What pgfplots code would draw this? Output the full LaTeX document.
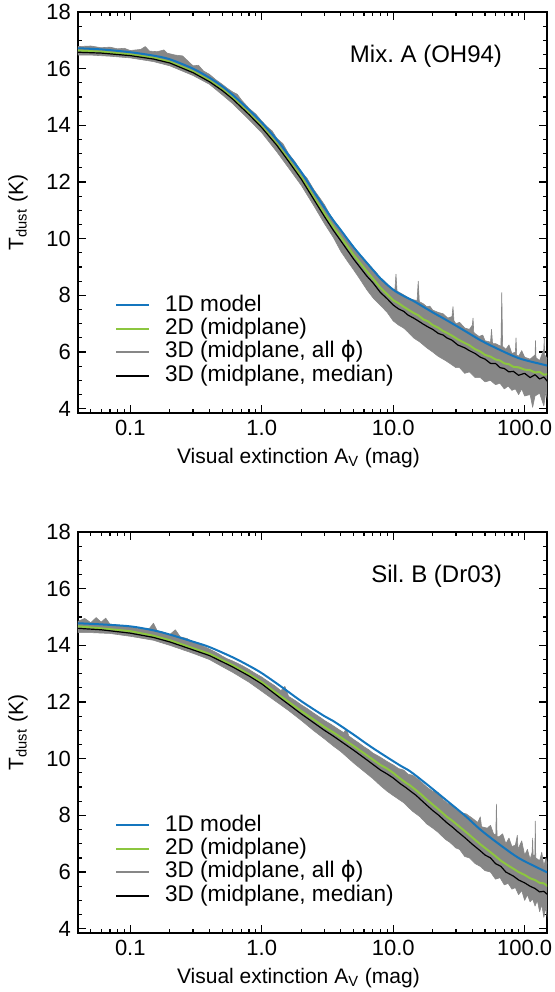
\documentclass[border=0pt]{standalone}
\usepackage{pgfplots}
\pgfplotsset{compat=1.18}
\usepackage{fontspec}
\setmainfont{Liberation Sans}
\newfontfamily\dejavu{DejaVu Sans}
\frenchspacing
\definecolor{oneD}{RGB}{20,118,190}
\definecolor{twoD}{RGB}{140,198,63}
\definecolor{threeD}{RGB}{135,135,135}
\pgfplotsset{
  every axis/.append style={
  width=234.5pt, height=200.5pt, scale only axis,
  xmin=0.04, xmax=148, ymin=3.85, ymax=18,
  xtick={0.1,1,10,100}, xticklabels={0.1,1.0,10.0,100.0},
  minor xtick={0.04,0.05,0.06,0.07,0.08,0.09,0.2,0.3,0.4,0.5,0.6,0.7,0.8,0.9,2,3,4,5,6,7,8,9,20,30,40,50,60,70,80,90},
  ytick={4,6,...,18}, minor y tick num=3,
  tick align=inside, major tick length=4pt, minor tick length=2pt,
  /pgf/number format/assume math mode=true,
  tick label style={font=\fontsize{11}{13}\selectfont},
  label style={font=\fontsize{10.5}{12}\selectfont},
  xlabel={Visual extinction A\textsubscript{V} (mag)},
  ylabel={T\textsubscript{dust} (K)},
  xlabel style={at={(axis description cs:0.47,-0.112)},anchor=center},
  ylabel style={at={(axis description cs:-0.128,0.5)},anchor=center},
  axis line style={line width=0.6pt},
  every tick/.style={line width=0.6pt, black},
  legend style={draw=none, fill=none, at={(0.079,0.295)}, anchor=north west,
    inner sep=0pt, outer sep=0pt, row sep=1pt,
    font=\fontsize{11.3}{13}\selectfont,
    nodes={inner sep=0pt, text height=8.2pt, text depth=2.5pt},
    /tikz/every odd column/.append style={column sep=7.5pt}},
  legend cell align=left,
  },
  legend image code/.code={\draw[#1] (0pt,0pt) -- (16.5pt,0pt);},
}
\begin{document}
\begin{tikzpicture}
\useasboundingbox (0,0) rectangle (277.5pt,496pt);
% ---------------- top panel ----------------
\begin{semilogxaxis}[at={(39pt,289.5pt)}, anchor=south west]
\addlegendimage{oneD, line width=1pt}\addlegendentry{1D model}
\addlegendimage{twoD, line width=1pt}\addlegendentry{2D (midplane)}
\addlegendimage{threeD, line width=1pt}\addlegendentry{3D (midplane, all {\dejavu ϕ})}
\addlegendimage{black, line width=1pt}\addlegendentry{3D (midplane, median)}
\addplot[fill=threeD, draw=threeD, line width=0.3pt, line join=round, forget plot] coordinates {
(0.04,16.78)(0.05,16.8)(0.06,16.74)(0.07,16.76)(0.08,16.7)(0.09,16.72)(0.1,16.64)(0.12,16.68)(0.13,16.78)(0.14,16.62)
(0.16,16.6)(0.18,16.66)(0.19,16.55)(0.22,16.48)(0.25,16.45)(0.27,16.3)(0.3,16.1)(0.33,16.12)(0.36,15.92)(0.4,15.8)
(0.45,15.6)(0.5,15.45)(0.55,15.3)(0.6,15.18)(0.65,15.1)(0.7,14.9)(0.8,14.6)(0.9,14.4)(1.0,14.15)(1.1,13.95)
(1.2,13.8)(1.3,13.55)(1.45,13.35)(1.6,13.0)(1.8,12.7)(2.0,12.35)(2.2,12.15)(2.5,11.72)(2.8,11.4)(3.0,11.2)
(3.3,10.85)(3.6,10.6)(4.0,10.32)(4.3,10.1)(4.7,9.88)(5.0,9.72)(5.4,9.5)(5.8,9.35)(6.3,9.17)(6.8,9.0)
(7.3,8.85)(8.0,8.62)(8.6,8.5)(9.2,8.35)(10,8.22)(10.3,8.2)(10.5,8.75)(10.7,8.15)(12,8.02)(13,7.92)(14,7.85)
(15.2,7.82)(15.5,8.5)(15.8,7.78)(17,7.7)(18,7.6)(19,7.62)(20,7.48)(22,7.4)(24,7.35)(26,7.2)
(28,7.25)(28.5,7.6)(29,7.1)(30,7.0)(32,7.05)(35,6.85)(38,6.8)(40,6.95)(40.5,7.2)(41,6.7)(42,6.65)(45,6.55)(48,6.6)(50,6.4)
(55,6.35)(56,6.8)(57,6.3)(60,6.3)(66,6.2)(67,8.1)(68,6.2)(72,6.1)(76,6.25)(80,5.95)(85,6.0)(86,6.5)(87,5.9)(90,5.85)
(95,6.05)(100,5.82)(110,5.75)(120,5.9)(121,6.4)(122,5.8)(130,5.7)(140,6.1)(141,6.5)(142,5.9)(150,5.75)
(150,4.25)(145,4.6)(140,4.1)(130,4.55)(120,4.45)(115,4.05)(110,4.5)(100,4.45)(95,4.7)(90,4.5)
(85,4.7)(80,4.65)(75,4.8)(70,4.7)(65,4.9)(60,4.85)(55,5.0)(50,4.95)(46,5.1)(42,5.1)
(38,5.3)(35,5.25)(32,5.45)(30,5.45)(27,5.6)(25,5.7)(22,5.85)(20,6.0)(18,6.15)(16,6.35)
(14.3,6.5)(13,6.7)(12,6.85)(11,6.95)(10,7.1)(9,7.4)(8,7.65)(7,7.92)(6.3,8.2)(5.5,8.62)
(5,8.9)(4.5,9.2)(4,9.55)(3.5,10.05)(3.0,10.53)(2.5,11.15)(2.0,11.88)(1.6,12.5)(1.3,13.07)(1.0,13.74)
(0.8,14.2)(0.6,14.77)(0.5,15.08)(0.4,15.45)(0.3,15.76)(0.2,16.1)(0.15,16.25)(0.1,16.38)(0.07,16.44)(0.05,16.48)(0.04,16.48)(0.04,16.78)
};
\addplot[oneD, line width=1pt, smooth, forget plot] coordinates {
(0.04,16.72)(0.06,16.68)(0.1,16.58)(0.15,16.46)(0.2,16.33)(0.3,16.0)(0.4,15.68)(0.5,15.38)(0.6,15.08)(0.8,14.55)
(1.0,14.1)(1.3,13.5)(1.6,12.95)(2.0,12.35)(2.5,11.65)(3.0,11.1)(3.5,10.65)(4.0,10.3)(5.0,9.7)(6.3,9.15)
(8.0,8.6)(10,8.2)(12,7.98)(14.3,7.8)(20,7.4)(25.6,7.12)(35,6.75)(46,6.42)(60,6.15)(82,5.86)(100,5.72)(150,5.52)
};
\addplot[twoD, line width=1pt, line join=round, forget plot] coordinates {
(0.04,16.64)(0.06,16.6)(0.1,16.5)(0.15,16.38)(0.2,16.24)(0.3,15.9)(0.4,15.58)(0.5,15.27)(0.6,14.97)(0.8,14.42)
(1.0,13.96)(1.3,13.34)(1.6,12.78)(2.0,12.17)(2.5,11.45)(3.0,10.88)(3.5,10.42)(4.0,10.05)(5.0,9.43)(6.3,8.85)
(8.0,8.27)(10,7.83)(11,7.72)(12,7.6)(13,7.5)(14.3,7.38)(15.5,7.3)(17,7.15)(18.5,7.08)(20,6.95)
(22,6.86)(24,6.74)(25.6,6.68)(28,6.58)(31,6.45)(35,6.32)(38,6.24)(42,6.1)(46,6.02)(50,5.9)
(55,5.84)(60,5.74)(65,5.7)(70,5.6)(76,5.57)(82,5.48)(90,5.46)(100,5.38)(110,5.36)(120,5.28)(130,5.3)(140,5.2)(150,5.22)
};
\addplot[black, line width=0.6pt, line join=round, forget plot] coordinates {
(0.04,16.58)(0.06,16.55)(0.1,16.46)(0.15,16.34)(0.2,16.2)(0.3,15.86)(0.4,15.54)(0.5,15.23)(0.6,14.93)(0.8,14.38)
(1,13.92)(1.3,13.3)(1.6,12.73)(2,12.1)(2.5,11.37)(3,10.78)(3.5,10.3)(4,9.92)(5,9.28)(6.3,8.68)
(7,8.45)(8,8.1)(9,7.88)(10,7.66)(11,7.52)(12,7.44)(13,7.3)(14.3,7.2)(15.5,7.1)(17,6.98)
(18.5,6.88)(20,6.8)(22,6.66)(24,6.6)(25.6,6.5)(28,6.42)(31,6.25)(35,6.15)(38,6.05)(42,5.95)
(46,5.82)(50,5.75)(55,5.6)(60,5.6)(65,5.45)(70,5.42)(76,5.3)(82,5.32)(90,5.18)(100,5.25)(110,5.1)(120,5.2)(130,5.05)(140,5.12)(150,4.95)
};
\node[anchor=east, font=\fontsize{12}{14}\selectfont] at (rel axis cs:0.919,0.89) {Mix. A (OH94)};
\end{semilogxaxis}
% ---------------- bottom panel ----------------
\begin{semilogxaxis}[at={(39pt,29.5pt)}, anchor=south west]
\addlegendimage{oneD, line width=1pt}\addlegendentry{1D model}
\addlegendimage{twoD, line width=1pt}\addlegendentry{2D (midplane)}
\addlegendimage{threeD, line width=1pt}\addlegendentry{3D (midplane, all {\dejavu ϕ})}
\addlegendimage{black, line width=1pt}\addlegendentry{3D (midplane, median)}
\addplot[fill=threeD, draw=threeD, line width=0.3pt, line join=round, forget plot] coordinates {
(0.04,14.85)(0.045,14.95)(0.05,14.8)(0.055,14.98)(0.06,14.82)(0.065,14.96)(0.07,14.75)(0.08,14.72)(0.1,14.65)(0.12,14.58)
(0.14,14.6)(0.15,14.78)(0.16,14.52)(0.18,14.46)(0.2,14.38)(0.22,14.55)(0.24,14.3)(0.27,14.24)(0.3,14.12)(0.34,14.02)
(0.38,13.92)(0.42,13.82)(0.47,13.7)(0.5,13.62)(0.55,13.52)(0.6,13.45)(0.7,13.3)(0.8,13.15)(0.9,13.0)(1.0,12.88)
(1.1,12.75)(1.25,12.58)(1.4,12.4)(1.5,12.55)(1.6,12.2)(1.8,12.05)(2.0,11.9)(2.2,11.78)(2.5,11.6)(2.8,11.45)(3.0,11.35)
(3.4,11.2)(3.8,11.05)(4.2,10.92)(4.4,11.05)(4.6,10.8)(5.0,10.68)(5.5,10.55)(6.0,10.42)(6.5,10.32)(7.0,10.2)(8.0,10.05)
(9.0,9.9)(10,9.78)(11,9.65)(12,9.6)(13,9.45)(14,9.42)(15,9.32)(16,9.22)(18,9.0)(20,8.85)
(22,8.8)(24,8.55)(26,8.42)(28,8.38)(30,8.2)(33,8.1)(36,8.05)(40,7.9)(44,7.75)(46,7.95)(47,7.6)
(52,7.55)(55,7.65)(58,7.35)(60.3,7.3)(61,8.4)(61.7,7.25)(64,7.25)(68,7.35)(72,7.0)(76,7.2)(80,6.9)(85,6.95)
(88,7.3)(89,6.8)(95,7.1)(100,6.6)(105,6.8)(110,6.45)(114,6.7)(115,7.2)(116,6.6)(119.5,6.6)(120.5,7.8)(121.5,6.5)(130,6.4)(135,6.7)(140,6.2)(145,6.5)(150,6.25)
(150,4.3)(145,4.75)(140,4.4)(135,4.85)(130,4.6)(125,5.0)(120,4.8)(115,5.05)(110,4.95)(105,5.2)
(100,5.0)(95,5.35)(90,5.2)(85,5.45)(80,5.4)(75,5.6)(70,5.55)(65,5.8)(60,5.75)(55,6.0)
(50,6.05)(46,6.2)(42,6.3)(38,6.5)(35,6.55)(32,6.8)(30,6.85)(27,7.05)(25,7.15)(22,7.4)
(20,7.55)(18,7.7)(16,7.95)(14,8.15)(12,8.45)(10,8.7)(9,8.85)(8,9.05)(7,9.3)(6,9.55)
(5,9.85)(4,10.25)(3.5,10.45)(3,10.7)(2.5,10.98)(2,11.35)(1.6,11.7)(1.3,12.0)(1.0,12.38)(0.8,12.7)
(0.6,13.05)(0.5,13.25)(0.4,13.5)(0.3,13.72)(0.2,14.0)(0.15,14.18)(0.1,14.32)(0.07,14.42)(0.05,14.45)(0.04,14.45)(0.04,14.85)
};
\addplot[oneD, line width=1pt, smooth, forget plot] coordinates {
(0.04,14.78)(0.06,14.74)(0.1,14.67)(0.15,14.53)(0.2,14.38)(0.3,14.13)(0.4,13.94)(0.6,13.58)(0.8,13.28)(1.0,13.02)
(1.4,12.55)(2.0,12.03)(3.0,11.5)(3.5,11.33)(5,10.85)(6.3,10.52)(8,10.2)(11.3,9.76)(13.5,9.55)(18,9.1)
(25.6,8.52)(35,8.0)(46,7.5)(60,7.08)(82,6.62)(100,6.38)(150,5.98)
};
\addplot[twoD, line width=1pt, line join=round, forget plot] coordinates {
(0.04,14.67)(0.06,14.6)(0.1,14.5)(0.15,14.34)(0.2,14.18)(0.3,13.9)(0.4,13.7)(0.6,13.3)(0.8,12.98)(1.0,12.7)
(1.4,12.2)(2.0,11.68)(3.0,11.12)(3.5,10.93)(5,10.45)(6.3,10.12)(8,9.78)(9,9.65)(10,9.5)(11.3,9.3)
(12.5,9.15)(13.5,9.05)(15,8.88)(16.5,8.72)(18,8.56)(20,8.38)(22,8.22)(25.6,7.95)(28,7.82)(31,7.65)
(35,7.45)(40,7.22)(46,6.98)(50,6.85)(55,6.7)(60,6.56)(66,6.4)(72,6.28)(82,6.12)(90,6.0)
(100,5.9)(110,5.78)(120,5.72)(130,5.62)(140,5.6)(150,5.5)
};
\addplot[black, line width=0.6pt, line join=round, forget plot] coordinates {
(0.04,14.6)(0.06,14.55)(0.1,14.43)(0.15,14.28)(0.2,14.12)(0.3,13.84)(0.4,13.64)(0.6,13.24)(0.8,12.92)(1,12.64)
(1.4,12.12)(2,11.58)(3,11.0)(3.5,10.8)(5,10.3)(6.3,9.96)(8,9.6)(9,9.46)(10,9.32)(11.3,9.12)
(12.5,8.98)(13.5,8.86)(15,8.7)(16.5,8.52)(18,8.36)(20,8.17)(22,8.02)(25.6,7.74)(28,7.6)(31,7.42)
(35,7.22)(40,6.98)(46,6.75)(50,6.6)(55,6.5)(60,6.3)(66,6.2)(72,6.0)(82,5.86)(90,5.72)
(100,5.62)(110,5.5)(120,5.42)(130,5.3)(140,5.32)(150,5.2)
};
\node[anchor=east, font=\fontsize{12}{14}\selectfont] at (rel axis cs:0.919,0.89) {Sil. B (Dr03)};
\end{semilogxaxis}
\end{tikzpicture}
\end{document}
